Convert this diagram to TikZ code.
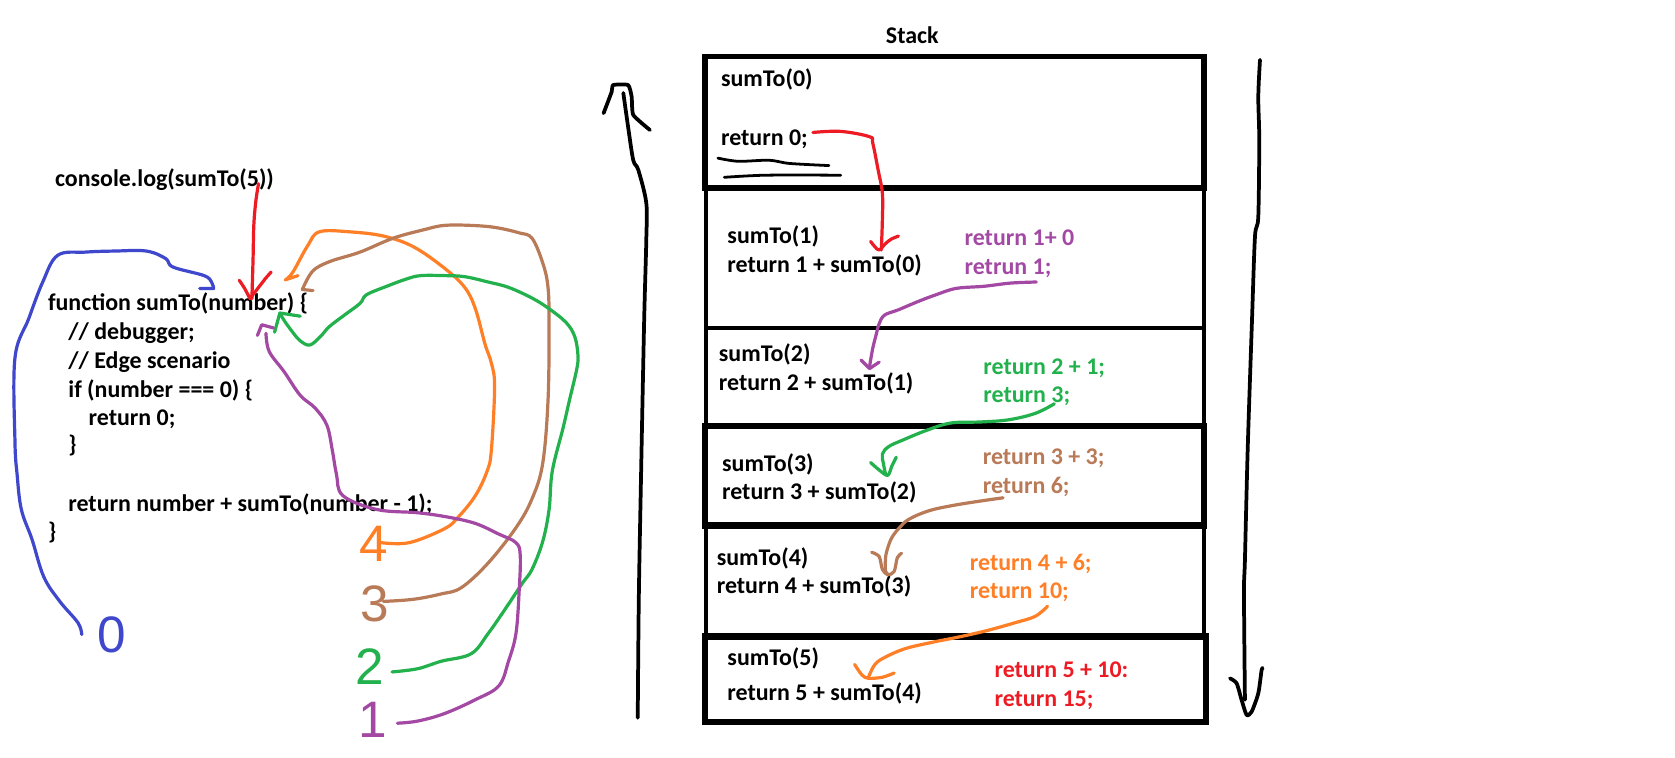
\documentclass[tikz,border=0pt]{standalone}
\usepackage{fontspec}
\setmainfont{Carlito}
\newfontfamily\digitfont{Liberation Sans}
\definecolor{pred}{HTML}{ED1C24}
\definecolor{ppurple}{HTML}{A349A4}
\definecolor{pgreen}{HTML}{22B14C}
\definecolor{porange}{HTML}{FF7F27}
\definecolor{pbrown}{HTML}{B97A57}
\definecolor{pblue}{HTML}{3F48CC}
\begin{document}
\begin{tikzpicture}[x=1pt,y=-1pt,
  every node/.style={inner sep=0pt,outer sep=0pt},
  txt/.style={anchor=base west,font=\fontsize{22.4}{26}\selectfont\bfseries},
  digit/.style={anchor=center,font=\fontsize{48}{50}\selectfont\digitfont},
  pen/.style={line width=3pt,line cap=round,line join=round},
  bpen/.style={line width=3.5pt,line cap=round,line join=round,black},
  frame/.style={line width=#1,black}]
\useasboundingbox[fill=white] (0,0) rectangle (1568,709);

% ---------- code ----------
\node[txt] (c1) at (51.5,174.5) {console.log(sumTo(5))};
\node[txt] (c2) at (45,291) {function sumTo(number) \{};
\node[txt] (c3) at (64,317.5) {// debugger;};
\node[txt] (c4) at (64,344.5) {// Edge scenario};
\node[txt] (c5) at (64,372) {if (number === 0) \{};
\node[txt] (c6) at (83,398.5) {return 0;};
\node[txt] (c7) at (64,424) {\}};
\node[txt] (c8) at (64,479) {return number + sumTo(number - 1);};
\node[txt] (c9) at (45,505) {\}};

% ---------- digits ----------
\node[digit,porange] (d4) at (349.5,509.5) {4};
\node[digit,pbrown] (d3) at (351,565) {3};
\node[digit,pgreen] (d2) at (346,624) {2};
\node[digit,ppurple] (d1) at (349,674) {1};
\node[digit,pblue] (d0) at (105,594) {0};

% ---------- left curves ----------
\draw[pen,pblue] plot[smooth,tension=0.6] coordinates {(76.5,594) (73,583) (56,563) (41,540) (30,505) (20,477) (16,444) (14,413) (14,335) (27,298) (40,264) (54,239) (80,236) (108,235) (137,235) (155,242) (162,250) (191,258) (198,264) (200,270)} -- (187,270);

\draw[pen,pred] plot[smooth,tension=0.6] coordinates {(242,172) (239.4,189) (237.6,211) (236.9,242) (235.8,279.5)};
\draw[pen,pred] plot[smooth,tension=0.4] coordinates {(224,262.4) (229,270) (234,279.5)} -- (248.4,260.8) -- (253.8,254.6);

\draw[pen,porange] plot[smooth,tension=0.6] coordinates {(357,508) (383,508) (416,495) (429,484) (445,464) (456,441) (460,421) (463,362) (460,340) (454,322) (445,289) (435,269) (416,251) (387,231) (359,221) (327,217) (299,217) (288,230) (274,255) (267,262)} -- (279,258);

\draw[pen,pbrown] plot[smooth,tension=0.6] coordinates {(359,563) (387,561) (413,556) (432,550) (457,527) (483,494) (498,467) (508,434) (513,375) (514,306) (513,269) (508,246) (498,223) (486,218) (464,213) (441,211) (416,211) (397,215) (368,223) (337,236) (311,244) (296,251) (289,259) (283,271)} -- (293,272);

\draw[pen,pgreen] plot[smooth,tension=0.6] coordinates {(367,629) (391,626) (413,619) (441,612) (457,593) (473,570) (489,546) (498,533) (508,507) (514,477) (517,441) (527,401) (533,375) (540,345) (541,332) (538,315) (530,302) (514,289) (498,279) (476,269) (457,264) (435,259) (416,258) (394,258) (381,261) (362,268) (343,276) (337,284) (321,296) (308,306) (300,315) (290,323) (281,319) (274,311) (266,300) (262,293)};
\draw[pen,pgreen] (257,311) -- (262,293) -- (281,296);

\draw[pen,ppurple] plot[smooth,tension=0.6] coordinates {(372,677) (391,675) (416,668) (445,655) (467,642) (476,619) (483,593) (486,553) (487,520) (483,508) (467,500) (445,490) (419,484) (391,480) (353,477) (321,464) (315,444) (311,421) (306,398) (295,382) (281,370) (266,348) (252,329) (249,312)};
\draw[pen,ppurple] (241,314) -- (245,304) -- (256,307);

% ---------- big arrows ----------
\draw[bpen] plot[smooth,tension=0.5] coordinates {(597,672) (598,560) (600,450) (603,300) (605,225) (605,190) (597.5,159) (592.8,150) (588,119) (583.5,87)};
\draw[bpen] plot[smooth,tension=0.3] coordinates {(565,106) (572.6,86) (574,79.6) (588,79.6) (591.3,90.5) (592.8,107.6) (608.4,121.7)};

\draw[bpen] plot[smooth,tension=0.5] coordinates {(1179.5,56) (1177.9,90.5) (1178.8,131) (1177.9,203) (1174.8,221.5) (1172,300) (1168,420) (1165.4,524) (1164.5,555) (1165.4,655)};
\draw[bpen] plot[smooth,tension=0.4] coordinates {(1151.4,635) (1157.6,639.6) (1162.3,655.3) (1167,669.3) (1171.7,666.2) (1177.9,649) (1181,627.2) (1182,625.6)};

% ---------- stack ----------
\node[txt,anchor=base] (st) at (854,41) {Stack};
\draw[frame=5pt] (660,53) rectangle (1127,176);
\draw[frame=4pt] (661,176) rectangle (1127,307);
\draw[frame=4pt] (661,307) rectangle (1127,399);
\draw[frame=6pt] (660,399) rectangle (1127,492);
\draw[frame=4pt] (661,492) rectangle (1127,596);
\draw[frame=6pt] (660,596) rectangle (1129,676);

\node[txt] (s0a) at (675,81) {sumTo(0)};
\node[txt] (s0b) at (675,136) {return 0;};
\draw[line width=2.6pt,line cap=round] plot[smooth,tension=0.5] coordinates {(672,148) (691,151) (720,150) (739,153) (776,155)};
\draw[line width=2.6pt,line cap=round] plot[smooth,tension=0.5] coordinates {(678,166) (717,164) (787,164)};

\node[txt] (s1a) at (681,228) {sumTo(1)};
\node[txt] (s1b) at (681,255) {return 1 + sumTo(0)};
\node[txt,ppurple] (p1) at (903,230) {return 1+ 0};
\node[txt,ppurple] (p2) at (903,257) {retrun 1;};

\node[txt] (s2a) at (673,338) {sumTo(2)};
\node[txt] (s2b) at (673,366) {return 2 + sumTo(1)};
\node[txt,pgreen] (g1) at (920.6,350.5) {return 2 + 1;};
\node[txt,pgreen] (g2) at (920.6,377) {return 3;};

\node[txt] (s3a) at (676,441) {sumTo(3)};
\node[txt] (s3b) at (676,468) {return 3 + sumTo(2)};
\node[txt,pbrown] (b1) at (920,435) {return 3 + 3;};
\node[txt,pbrown] (b2) at (920,462) {return 6;};

\node[txt] (s4a) at (671,529) {sumTo(4)};
\node[txt] (s4b) at (671,556) {return 4 + sumTo(3)};
\node[txt,porange] (o1) at (908,534) {return 4 + 6;};
\node[txt,porange] (o2) at (908,560) {return 10;};

\node[txt] (s5a) at (681,623) {sumTo(5)};
\node[txt] (s5b) at (681,656) {return 5 + sumTo(4)};
\node[txt,pred] (r1) at (931,634) {return 5 + 10:};
\node[txt,pred] (r2) at (931,661) {return 15;};

% ---------- stack arrows ----------
\draw[pen,pred] plot[smooth,tension=0.6] coordinates {(761,124) (787,123) (814,128) (817,134) (822,159) (826,181) (826,206) (825,234)};
\draw[pen,pred] plot[smooth,tension=0.5] coordinates {(815,226) (819,231) (823,234) (829,228) (834,224) (841,221)};

\draw[pen,ppurple] plot[smooth,tension=0.6] coordinates {(970,264) (946,265) (921,268) (895,270) (876,276) (860,282) (841,290) (828,295) (823,303) (820,314) (817,326) (814,343)};
\draw[pen,ppurple] (806,337) -- (814,345) -- (823,339);

\draw[pen,pgreen] plot[smooth,tension=0.6] coordinates {(987,378) (969,387) (944,393) (918,395) (890,396) (867,403) (845,412) (832,418) (826,425) (827,434) (829,444)};
\draw[pen,pgreen] plot[smooth,tension=0.5] coordinates {(815,433) (823,440) (831,445) (835,436) (839,428)};

\draw[pen,pbrown] plot[smooth,tension=0.6] coordinates {(939,466) (918,469) (893,473) (870,478) (851,486) (842,494) (835,503) (831,513) (829,522) (829,535) (832,538)};
\draw[pen,pbrown] plot[smooth,tension=0.5] coordinates {(816,517) (823,521) (826,533) (831,538) (837,535) (840,522) (844,518)};

\draw[pen,porange] plot[smooth,tension=0.6] coordinates {(980.5,567.6) (969,577) (950,583) (925,590) (899,596) (874,601) (848,607) (829,615) (819,622) (813,634)};
\draw[pen,porange] plot[smooth,tension=0.5] coordinates {(800,622) (807,632) (813,635) (826,634) (837,630)};
\end{tikzpicture}
\end{document}
